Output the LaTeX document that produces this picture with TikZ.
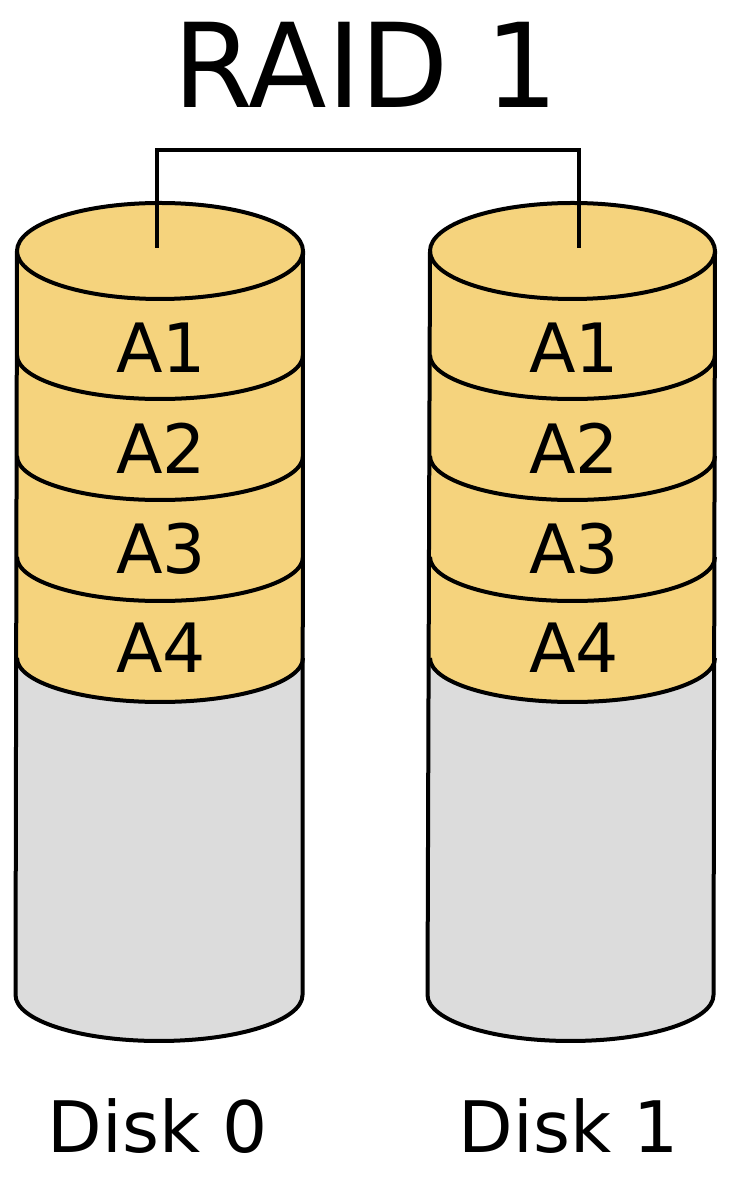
\documentclass[tikz,border=0pt]{standalone}
\usepackage{fontspec}
\setmainfont{DejaVu Sans}
\definecolor{diskgold}{HTML}{F5D37D}
\definecolor{diskgray}{HTML}{DCDCDC}
\tikzset{
  outline/.style={draw=black, line width=4pt, line join=round},
  wire/.style={draw=black, line width=3.6pt},
  blocklabel/.style={anchor=base, inner sep=0pt, font=\fontsize{68pt}{80pt}\selectfont},
  disklabel/.style={anchor=base, inner sep=0pt, font=\fontsize{71pt}{84pt}\selectfont},
  titlelabel/.style={anchor=base, inner sep=0pt, xscale=0.98, font=\fontsize{117pt}{130pt}\selectfont}
}
\begin{document}
\begin{tikzpicture}[x=1pt, y=1pt]
  \fill[white] (0,0) rectangle (737,1179);
  \useasboundingbox (0,0) rectangle (737,1179);
  \foreach \tl/\tr/\bl/\br/\n in {17/303/15.5/302.5/0, 430/715/427.5/713.5/1} {
    \pgfmathsetmacro\tc{(\tl+\tr)/2}
    \pgfmathsetmacro\trx{(\tr-\tl)/2}
    \pgfmathsetmacro\brx{(\br-\bl)/2}
    % gray lower part
    \fill[diskgray] (\tl,521) -- (\bl,184)
      arc[start angle=180, end angle=360, x radius=\brx pt, y radius=46pt]
      -- (\tr,521)
      arc[start angle=0, end angle=-180, x radius=\trx pt, y radius=44pt] -- cycle;
    % gold upper part
    \fill[diskgold] (\tl,928) -- (\tl,521)
      arc[start angle=180, end angle=360, x radius=\trx pt, y radius=44pt]
      -- (\tr,928)
      arc[start angle=0, end angle=180, x radius=\trx pt, y radius=48pt] -- cycle;
    % outline of body
    \draw[outline] (\tl,928) -- (\bl,184)
      arc[start angle=180, end angle=360, x radius=\brx pt, y radius=46pt]
      -- (\tr,928);
    % band separators
    \foreach \yy in {824,723,622,521} {
      \draw[outline] (\tl,\yy) arc[start angle=180, end angle=360, x radius=\trx pt, y radius=44pt];
    }
    % top ellipse
    \draw[outline] (\tc,928) ellipse[x radius=\trx pt, y radius=48pt];
  }
  % connector between the two disks
  \coordinate (c0) at (157,931);
  \coordinate (c1) at (579,931);
  \draw[wire] (c0) -- ++(0,98) -| (c1);
  % labels
  \node[titlelabel] (title) at (366,1071) {RAID 1};
  \node[blocklabel] (d0a1) at (161,806) {A1};
  \node[blocklabel] (d0a2) at (161,705.5) {A2};
  \node[blocklabel] (d0a3) at (161,605.5) {A3};
  \node[blocklabel] (d0a4) at (161,506) {A4};
  \node[blocklabel] (d1a1) at (574,806) {A1};
  \node[blocklabel] (d1a2) at (574,705.5) {A2};
  \node[blocklabel] (d1a3) at (574,605.5) {A3};
  \node[blocklabel] (d1a4) at (574,506) {A4};
  \node[disklabel] (disk0) at (158,27) {Disk 0};
  \node[disklabel] (disk1) at (569,27) {Disk 1};
\end{tikzpicture}
\end{document}
